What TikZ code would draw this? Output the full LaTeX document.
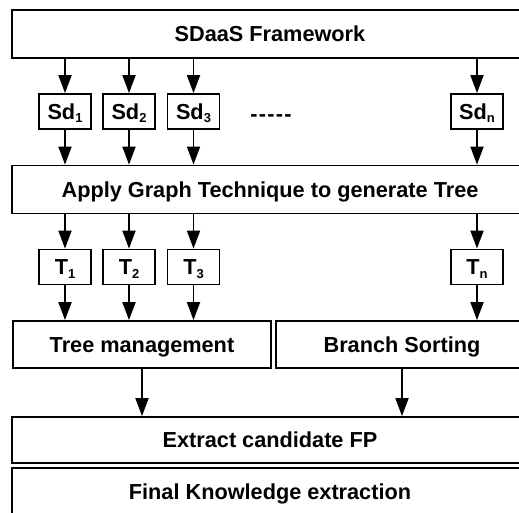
\documentclass[tikz,border=0pt]{standalone}
\usepackage{fontspec}
\setmainfont{Liberation Sans}
\usetikzlibrary{arrows.meta}
\newcommand{\sub}[1]{\raisebox{-3.5pt}{\fontsize{13}{13}\selectfont #1}}
\begin{document}
\begin{tikzpicture}[x=1pt,y=-1pt,
  box/.style={draw, line width=1.8pt, inner sep=0pt, text height=15.5pt, text depth=0pt, font=\fontsize{21.7}{26}\selectfont\bfseries},
  wide/.style={box, minimum width=516pt, minimum height=48pt},
  small/.style={box, minimum width=52pt, minimum height=35pt},
  arr/.style={line width=1.8pt, -{Triangle[length=18pt,width=13pt]}}]
\useasboundingbox (0,0) rectangle (519,512);
\clip (0,0) rectangle (519,512);
\node[wide] (top) at (270,34) {SDaaS Framework};
\node[small] (sd1) at (65,111.5) {Sd\sub{1}};
\node[small] (sd2) at (129,111.5) {Sd\sub{2}};
\node[small] (sd3) at (193.5,111.5) {Sd\sub{3}};
\node[small] (sdn) at (477,111.5) {Sd\sub{n}};
\node[font=\fontsize{21.7}{26}\selectfont\bfseries, inner sep=0pt] (dots) at (271,118) {-\kern1.3pt-\kern1.3pt-\kern1.3pt-\kern1.3pt-};
\node[wide] (apply) at (270,189.5) {Apply Graph Technique to generate Tree};
\node[small] (t1) at (65,267) {T\sub{1}};
\node[small] (t2) at (129,267) {T\sub{2}};
\node[small] (t3) at (193.5,267) {T\sub{3}};
\node[small] (tn) at (477,267) {T\sub{n}};
\node[box, minimum width=258pt, minimum height=47pt] (tm) at (142,344.5) {Tree management};
\node[box, minimum width=252pt, minimum height=47pt] (bs) at (402,344.5) {Branch Sorting};
\node[box, minimum width=516pt, minimum height=46pt] (ex) at (270,440) {Extract candidate FP};
\node[box, minimum width=516pt, minimum height=48pt] (fin) at (270,492) {Final Knowledge extraction};
\foreach \n in {sd1,sd2,sd3,sdn}{
  \draw[arr] (top.south -| \n) -- (\n.north);
  \draw[arr] (\n.south) -- (apply.north -| \n);
}
\foreach \n in {t1,t2,t3}{
  \draw[arr] (apply.south -| \n) -- (\n.north);
  \draw[arr] (\n.south) -- (tm.north -| \n);
}
\draw[arr] (apply.south -| tn) -- (tn.north);
\draw[arr] (tn.south) -- (bs.north -| tn);
\draw[arr] (tm.south) -- (ex.north -| tm);
\draw[arr] (bs.south) -- (ex.north -| bs);
\end{tikzpicture}
\end{document}
